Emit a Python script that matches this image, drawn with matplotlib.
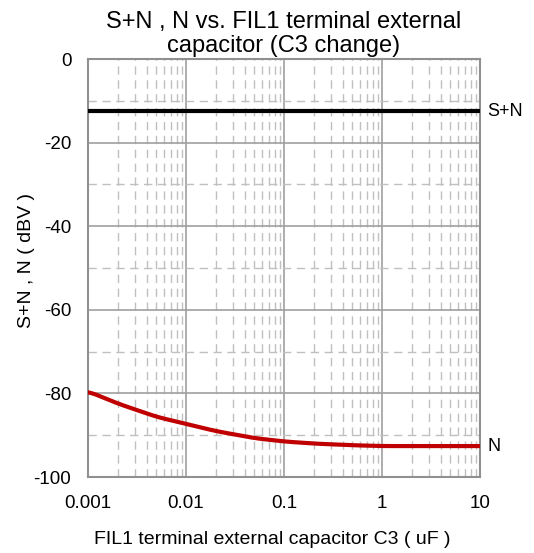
import matplotlib
matplotlib.use("Agg")
import matplotlib.pyplot as plt
import numpy as np
from matplotlib.ticker import LogLocator, FixedLocator, NullFormatter

plt.rcParams["font.family"] = ["Liberation Sans", "DejaVu Sans"]
plt.rcParams["axes.unicode_minus"] = False

# capacitor C3 (uF)
cap_uF = [0.001, 0.002, 0.005, 0.01, 0.02, 0.05, 0.1, 0.2, 0.5, 1, 2, 5, 10]
# S+N level (dBV), flat
sn_dbv = [-12.5] * len(cap_uF)
# N level (dBV)
n_dbv = [-79.5, -82.4, -85.6, -87.3, -89.0, -90.7, -91.5, -92.0, -92.4, -92.6, -92.6, -92.6, -92.6]

x_ticks = [0.001, 0.01, 0.1, 1, 10]
x_tick_labels = ["0.001", "0.01", "0.1", "1", "10"]
y_ticks = [0, -20, -40, -60, -80, -100]

fig = plt.figure(figsize=(5.34, 5.53), dpi=100)
ax = fig.add_axes([88 / 534, 1 - 477 / 553, (480 - 88) / 534, (477 - 59) / 553])

ax.set_xscale("log")
ax.set_xlim(0.001, 10)
ax.set_ylim(-100, 0)

# smooth the N curve in log-x for drawing
lx = np.log10(cap_uF)
lx_fine = np.linspace(lx[0], lx[-1], 300)
n_fine = np.interp(lx_fine, lx, n_dbv)
kernel = np.ones(15) / 15
n_smooth = np.convolve(np.pad(n_fine, 7, mode="edge"), kernel, mode="valid")

ax.plot(cap_uF, sn_dbv, color="black", lw=3, zorder=3)
ax.plot(10 ** lx_fine, n_smooth, color="#c00000", lw=3, zorder=3)

ax.set_xticks(x_ticks)
ax.set_xticklabels(x_tick_labels)
ax.xaxis.set_minor_locator(LogLocator(base=10, subs=np.arange(2, 10)))
ax.xaxis.set_minor_formatter(NullFormatter())
ax.set_yticks(y_ticks)
ax.yaxis.set_minor_locator(FixedLocator([-10, -30, -50, -70, -90]))

ax.grid(which="major", color="#a0a0a0", lw=1.2, ls="-")
ax.grid(which="minor", color="#c0c0c0", lw=1, ls=(0, (6, 4)))
ax.tick_params(which="both", length=0, labelsize=13.5)
ax.tick_params(axis="x", pad=13)
ax.tick_params(axis="y", pad=12)

for s in ax.spines.values():
    s.set_color("#909090")
    s.set_linewidth(1.5)

ax.text(1.018, sn_dbv[-1], "S+N", transform=ax.get_yaxis_transform(), va="center", fontsize=13)
ax.text(1.018, n_dbv[-1], "N", transform=ax.get_yaxis_transform(), va="center", fontsize=13)

ax.set_title("S+N , N vs. FIL1 terminal external\ncapacitor (C3 change)", fontsize=17, pad=5,
             linespacing=1.15)
ax.set_xlabel("FIL1 terminal external capacitor C3 ( uF )", fontsize=14)
ax.set_ylabel("S+N , N ( dBV )", fontsize=14)
ax.xaxis.label.set_verticalalignment("center")
ax.yaxis.label.set_verticalalignment("center")
ax.xaxis.set_label_coords((272 - 88) / 392, (477 - 540) / 418)
ax.yaxis.set_label_coords((27 - 88) / 392, (477 - 261) / 418)

fig.savefig("out.png", dpi=100)
